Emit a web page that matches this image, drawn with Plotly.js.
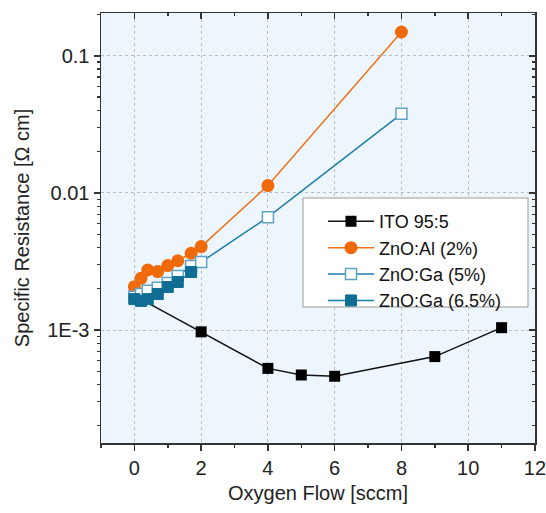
<!DOCTYPE html>
<html>
<head>
<meta charset="utf-8">
<script src="https://cdn.plot.ly/plotly-3.0.1.min.js"></script>
<style>html,body{margin:0;padding:0;background:#fff;}#chart{width:546px;height:513px;}</style>
</head>
<body>
<div id="chart"></div>
<script>
// Data
var itoX = [0, 2, 4, 5, 6, 9, 11];
var itoY = [1.78e-3, 9.7e-4, 5.25e-4, 4.7e-4, 4.6e-4, 6.4e-4, 1.04e-3];

var alX = [0, 0.2, 0.4, 0.7, 1.0, 1.3, 1.7, 2, 4, 8];
var alY = [2.07e-3, 2.38e-3, 2.74e-3, 2.67e-3, 2.95e-3, 3.2e-3, 3.63e-3, 4.06e-3, 0.0113, 0.149];

var ga5X = [0, 0.2, 0.4, 0.7, 1.0, 1.3, 1.7, 2, 4, 8];
var ga5Y = [1.75e-3, 1.83e-3, 1.93e-3, 2.03e-3, 2.2e-3, 2.48e-3, 2.93e-3, 3.13e-3, 6.65e-3, 0.0377];

var ga65X = [0, 0.2, 0.4, 0.7, 1.0, 1.3, 1.7];
var ga65Y = [1.68e-3, 1.63e-3, 1.68e-3, 1.83e-3, 2.06e-3, 2.24e-3, 2.65e-3];

var seriesNames = ['ITO 95:5', 'ZnO:Al (2%)', 'ZnO:Ga (5%)', 'ZnO:Ga (6.5%)'];
var xTicks = [0, 2, 4, 6, 8, 10, 12];
var yTickVals = [0.001, 0.01, 0.1];
var yTickText = ['1E-3', '0.01', '0.1'];

var xr = [-1, 12.001];
var yr = [Math.log10(1.5e-4), Math.log10(0.205)];

var traces = [
  {x: itoX, y: itoY, name: seriesNames[0], mode: 'lines+markers',
   line: {color: '#111111', width: 1.5},
   marker: {symbol: 'square', size: 11, color: '#000000'}},
  {x: alX, y: alY, name: seriesNames[1], mode: 'lines+markers',
   line: {color: '#f07014', width: 1.5},
   marker: {symbol: 'circle', size: 13, color: '#f06a0c'}},
  {x: ga5X, y: ga5Y, name: seriesNames[2], mode: 'lines+markers',
   line: {color: '#1f7ea6', width: 1.5},
   marker: {symbol: 'square', size: 11, color: '#ffffff', line: {color: '#5fa3c4', width: 1.5}}},
  {x: ga65X, y: ga65Y, name: seriesNames[3], mode: 'lines+markers',
   line: {color: '#1f7ea6', width: 1.5},
   marker: {symbol: 'square', size: 11, color: '#0f6d94', line: {color: '#0f6d94', width: 1}}},
  {x: [], y: [], xaxis: 'x2', yaxis: 'y2', showlegend: false, hoverinfo: 'skip'}
];

var fnt = {family: 'Liberation Sans, Arial, sans-serif', size: 20, color: '#222'};

var layout = {
  width: 546, height: 513,
  margin: {l: 101, r: 11, t: 13, b: 70},
  paper_bgcolor: '#ffffff',
  plot_bgcolor: '#eef6fd',
  font: fnt,
  showlegend: true,
  legend: {
    x: 0.5115, y: 0.558, xanchor: 'left', yanchor: 'top',
    bgcolor: 'rgba(0,0,0,0)', borderwidth: 0,
    font: {family: 'Liberation Sans, Arial, sans-serif', size: 18, color: '#111'},
    tracegroupgap: 0, itemwidth: 46
  },
  shapes: [{
    type: 'rect', xref: 'paper', yref: 'paper',
    x0: 0.4654, x1: 0.9839, y0: 0.3163, y1: 0.5698,
    fillcolor: '#ffffff', line: {color: '#9a9a9a', width: 1}, layer: 'above'
  }],
  xaxis: {
    range: xr, tickvals: xTicks, ticks: 'outside', ticklen: 6, tickwidth: 1.5, tickcolor: '#333',
    showline: true, linecolor: '#333', linewidth: 1.5, ticklabeloverflow: 'allow',
    showgrid: true, gridcolor: '#bdbdbd', griddash: 'dot', gridwidth: 1,
    zeroline: false,
    minor: {dtick: 1, ticks: 'outside', ticklen: 3, tickwidth: 1.5, tickcolor: '#333', showgrid: false},
    title: {text: 'Oxygen Flow [sccm]', font: fnt, standoff: 8},
    tickfont: fnt
  },
  yaxis: {
    type: 'log', range: yr, tickvals: yTickVals, ticktext: yTickText,
    ticks: 'outside', ticklen: 6, tickwidth: 1.5, tickcolor: '#333',
    showline: true, linecolor: '#333', linewidth: 1.5,
    showgrid: true, gridcolor: '#bdbdbd', griddash: 'dot', gridwidth: 1,
    zeroline: false,
    minor: {dtick: 'D1', ticks: 'outside', ticklen: 3, tickwidth: 1.2, tickcolor: '#333', showgrid: false},
    title: {text: 'Specific Resistance [Ω cm]', font: fnt, standoff: 12},
    tickfont: fnt
  },
  xaxis2: {
    overlaying: 'x', side: 'top', anchor: 'y2', range: xr, tickvals: xTicks,
    ticks: 'inside', ticklen: 6, tickwidth: 1.5, tickcolor: '#333',
    showticklabels: false, showline: true, linecolor: '#333', linewidth: 1.5,
    showgrid: false, zeroline: false,
    minor: {dtick: 1, ticks: 'inside', ticklen: 3, tickwidth: 1.5, tickcolor: '#333', showgrid: false}
  },
  yaxis2: {
    overlaying: 'y', side: 'right', anchor: 'x2', type: 'log', range: yr, tickvals: yTickVals,
    ticks: 'inside', ticklen: 6, tickwidth: 1.5, tickcolor: '#333',
    showticklabels: false, showline: true, linecolor: '#333', linewidth: 1.5,
    showgrid: false, zeroline: false,
    minor: {dtick: 'D1', ticks: 'inside', ticklen: 3, tickwidth: 1.2, tickcolor: '#333', showgrid: false}
  }
};

Plotly.newPlot('chart', traces, layout, {displayModeBar: false, staticPlot: true});
</script>
</body>
</html>
